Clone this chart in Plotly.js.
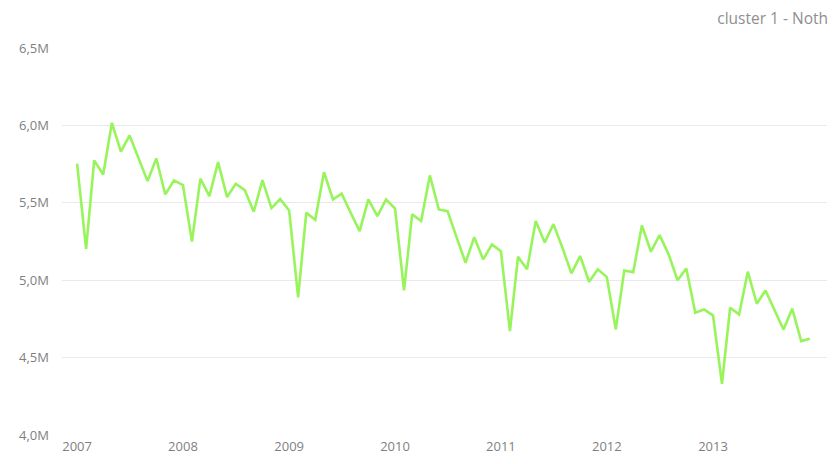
<!DOCTYPE html>
<html>
<head>
<meta charset="utf-8">
<script src="https://cdn.plot.ly/plotly-3.0.1.min.js"></script>
<style>
  html, body { margin: 0; padding: 0; background: #fff; }
  #chart { width: 834px; height: 464px; }
</style>
</head>
<body>
<div id="chart"></div>
<script>
// Monthly values (millions), Jan 2007 – Dec 2013
const years = [2007, 2008, 2009, 2010, 2011, 2012, 2013];
const values2007 = [5.753, 5.203, 5.774, 5.683, 6.017, 5.830, 5.935, 5.790, 5.640, 5.787, 5.554, 5.645];
const values2008 = [5.614, 5.249, 5.656, 5.543, 5.763, 5.537, 5.623, 5.582, 5.442, 5.647, 5.466, 5.524];
const values2009 = [5.451, 4.889, 5.436, 5.390, 5.698, 5.522, 5.559, 5.436, 5.317, 5.522, 5.414, 5.522];
const values2010 = [5.462, 4.934, 5.425, 5.382, 5.677, 5.457, 5.446, 5.278, 5.113, 5.278, 5.134, 5.231];
const values2011 = [5.188, 4.671, 5.152, 5.070, 5.382, 5.244, 5.362, 5.210, 5.044, 5.156, 4.990, 5.070];
const values2012 = [5.020, 4.682, 5.063, 5.052, 5.354, 5.184, 5.291, 5.167, 5.000, 5.076, 4.790, 4.811];
const values2013 = [4.773, 4.331, 4.822, 4.779, 5.055, 4.848, 4.934, 4.807, 4.682, 4.816, 4.607, 4.622];
const yearValues = [values2007, values2008, values2009, values2010, values2011, values2012, values2013];

const yTickVals = [4.0e6, 4.5e6, 5.0e6, 5.5e6, 6.0e6, 6.5e6];
const yTickText = ['4,0M', '4,5M', '5,0M', '5,5M', '6,0M', '6,5M'];
const xTickVals = ['2007-01-01', '2008-01-01', '2009-01-01', '2010-01-01', '2011-01-01', '2012-01-01', '2013-01-01'];
const xTickText = ['2007', '2008', '2009', '2010', '2011', '2012', '2013'];
const chartTitle = 'cluster 1 - Noth';

const xs = [], ys = [];
years.forEach((yr, i) => {
  yearValues[i].forEach((v, m) => {
    xs.push(yr + '-' + String(m + 1).padStart(2, '0') + '-01');
    ys.push(v * 1e6);
  });
});

const font = "'Open Sans', 'Noto Sans', sans-serif";

Plotly.newPlot('chart', [{
  type: 'scatter',
  mode: 'lines',
  x: xs,
  y: ys,
  line: { color: '#98F45B', width: 2.6 },
  hoverinfo: 'x+y'
}], {
  width: 834,
  height: 464,
  margin: { l: 62, r: 7, t: 48, b: 29 },
  paper_bgcolor: '#ffffff',
  plot_bgcolor: '#ffffff',
  showlegend: false,
  title: {
    text: chartTitle,
    font: { family: font, size: 15.5, color: '#8f8f8f' },
    x: 1, xanchor: 'right', xref: 'container',
    pad: { r: 6 },
    y: 1 - 19 / 464, yanchor: 'middle', yref: 'container'
  },
  xaxis: {
    type: 'date',
    range: ['2006-11-10', '2014-01-29'],
    tickvals: xTickVals,
    ticktext: xTickText,
    showgrid: false,
    zeroline: false,
    showline: false,
    ticks: '',
    tickfont: { family: font, size: 13, color: '#7f7f7f' },
    ticklabelstandoff: 2
  },
  yaxis: {
    range: [4.0e6, 6.5e6],
    tickvals: yTickVals,
    ticktext: yTickText,
    showgrid: true,
    gridcolor: '#e9e9e9',
    gridwidth: 1,
    zeroline: false,
    showline: false,
    ticks: '',
    tickfont: { family: font, size: 13, color: '#7f7f7f' },
    ticklabelstandoff: 12
  }
}, { displayModeBar: false, staticPlot: true });
</script>
</body>
</html>
